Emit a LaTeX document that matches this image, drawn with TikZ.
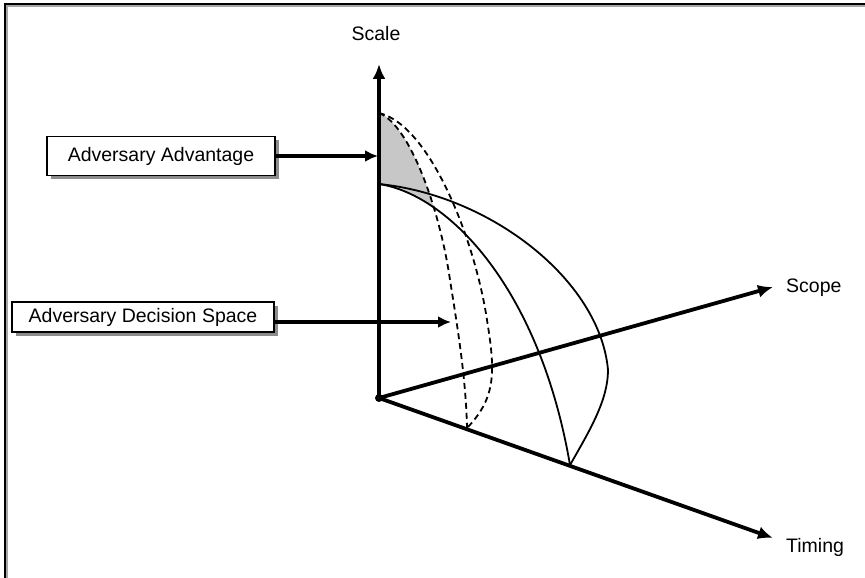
\documentclass[tikz,border=0pt]{standalone}
\usepackage{fontspec}
\setmainfont{Liberation Sans}
\usetikzlibrary{arrows.meta,shadows}
\begin{document}
\begin{tikzpicture}[x=1pt,y=-1pt,
  axis/.style={line width=3.8pt,-{Latex[length=15pt,width=13pt]}},
  pointer/.style={line width=3.2pt,-{Latex[length=13pt,width=12pt]}},
  curve/.style={line width=1.8pt},
  dcurve/.style={line width=1.8pt,dash pattern=on 6pt off 4pt},
  lbl/.style={font=\fontsize{19.5}{23}\selectfont,inner sep=0pt},
  tbox/.style={draw,line width=1.3pt,fill=white,inner sep=0pt,font=\fontsize{19.5}{23}\selectfont,
    drop shadow={shadow xshift=3.5pt,shadow yshift=-3.5pt,fill=black!45,opacity=1}}]
\useasboundingbox (0,0) rectangle (865,578);
% frame
\draw[line width=1.6pt,black!35] (6.8,578) -- (6.8,6.3) -- (865,6.3);
\draw[line width=2pt] (5,578) -- (5,4.5) -- (865,4.5);

\coordinate (O) at (379,398);
\coordinate (Tscale) at (379,64);
\coordinate (Tscope) at (773,287);
\coordinate (Ttime) at (773,538);
\coordinate (P1) at (379,113);
\coordinate (P2) at (379,184);
\coordinate (Q1) at (467,428);
\coordinate (Q2) at (570,465);

% gray advantage region
\begin{scope}
  \clip (P2) .. controls (450,195) and (540,290) .. (Q2) -- (700,0) -- (379,0) -- cycle;
  \fill[black!22] (P1) .. controls (410,125) and (440,210) .. (450,280) -- (379,280) -- cycle;
\end{scope}

% solid curves
\draw[curve] (P2) .. controls (450,195) and (540,290) .. (Q2);
\draw[curve] (P2) .. controls (490,195) and (600,280) .. (608,370)
  .. controls (608,400) and (590,430) .. (Q2);
% dashed curves
\draw[dcurve] (P1) .. controls (410,125) and (440,210) .. (450,280)
  .. controls (458,330) and (466,380) .. (Q1);
\draw[dcurve] (P1) .. controls (430,125) and (475,240) .. (487,320)
  .. controls (495,370) and (497,397) .. (Q1);

% axes
\draw[axis] (O) -- (Tscale);
\draw[axis] (O) -- (Tscope);
\draw[axis] (O) -- (Ttime);
\fill (O) circle (4pt);

\node[lbl] (scale) at (376,34) {Scale};
\node[lbl,anchor=west] (scope) at (786,288) {Scope};
\node[lbl,anchor=west] (timing) at (786,547) {Timing};

\node[tbox,minimum width=228pt,minimum height=39pt] (adv) at (161,156) {Adversary Advantage};
\node[tbox,minimum width=262pt,minimum height=30pt] (ads) at (143,317) {Adversary Decision Space};
\coordinate (advtip) at (378,156);
\coordinate (adstip) at (451,322);
\draw[pointer] (adv.east) -- (advtip);
\draw[pointer] (ads.east |- adstip) -- (adstip);
\end{tikzpicture}
\end{document}
